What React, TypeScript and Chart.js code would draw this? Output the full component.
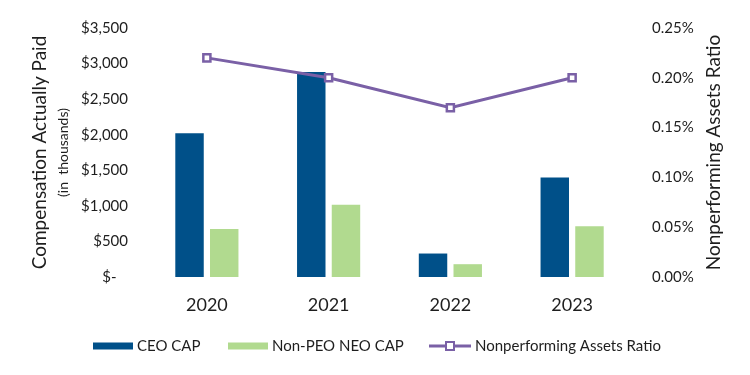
import React, { useEffect, useRef } from 'react';
import { Chart, registerables } from 'chart.js';

Chart.register(...registerables);

const categories = ['2020', '2021', '2022', '2023'];
const ceoCap = [2020, 2880, 330, 1400];
const nonPeoNeoCap = [675, 1015, 180, 715];
const npaRatio = [0.22, 0.2, 0.17, 0.2];

const leftTickLabels = ['$-   ', '$500', '$1,000', '$1,500', '$2,000', '$2,500', '$3,000', '$3,500'];
const rightTickLabels = ['0.00%', '0.05%', '0.10%', '0.15%', '0.20%', '0.25%'];

const seriesNames = ['CEO CAP', 'Non-PEO NEO CAP', 'Nonperforming Assets Ratio'];
const leftTitle = 'Compensation Actually Paid';
const leftSubtitle = '(in  thousands)';
const rightTitle = 'Nonperforming Assets Ratio';

const BLUE = '#005089';
const GREEN = '#B1DA8F';
const PURPLE = '#7A60A6';
const TEXT = '#1e1e1e';
const FONT = 'Lato, Carlito, Calibri, sans-serif';

const decorPlugin = {
  id: 'decor',
  afterDraw(chart: any) {
    const ctx = chart.ctx as CanvasRenderingContext2D;
    const area = chart.chartArea;
    const midY = (area.top + area.bottom) / 2;
    ctx.save();
    ctx.fillStyle = TEXT;
    ctx.textAlign = 'center';
    ctx.textBaseline = 'middle';
    // left title
    ctx.save();
    ctx.translate(40, midY);
    ctx.rotate(-Math.PI / 2);
    ctx.font = `19px ${FONT}`;
    ctx.fillText(leftTitle, 0, 0);
    ctx.restore();
    ctx.save();
    ctx.translate(63, midY);
    ctx.rotate(-Math.PI / 2);
    ctx.font = `14px ${FONT}`;
    ctx.fillText(leftSubtitle, 0, 0);
    ctx.restore();
    // right title
    ctx.save();
    ctx.translate(714, midY);
    ctx.rotate(-Math.PI / 2);
    ctx.font = `19px ${FONT}`;
    ctx.fillText(rightTitle, 0, 0);
    ctx.restore();

    // legend
    const ly = 346;
    ctx.font = `15px ${FONT}`;
    ctx.textAlign = 'left';
    ctx.textBaseline = 'middle';
    const starts = [93, 228, 429];
    ctx.fillStyle = BLUE;
    ctx.fillRect(starts[0], ly - 3.5, 40, 7);
    ctx.fillStyle = TEXT;
    ctx.fillText(seriesNames[0], starts[0] + 44, ly);
    ctx.fillStyle = GREEN;
    ctx.fillRect(starts[1], ly - 3.5, 40, 7);
    ctx.fillStyle = TEXT;
    ctx.fillText(seriesNames[1], starts[1] + 44, ly);
    ctx.strokeStyle = PURPLE;
    ctx.lineWidth = 3;
    ctx.beginPath();
    ctx.moveTo(starts[2], ly);
    ctx.lineTo(starts[2] + 42, ly);
    ctx.stroke();
    ctx.fillStyle = '#fff';
    ctx.lineWidth = 2;
    ctx.fillRect(starts[2] + 17, ly - 4, 8, 8);
    ctx.strokeRect(starts[2] + 17, ly - 4, 8, 8);
    ctx.fillStyle = TEXT;
    ctx.fillText(seriesNames[2], starts[2] + 46, ly);
    ctx.restore();
  },
};

export default function App() {
  const ref = useRef<HTMLCanvasElement | null>(null);
  useEffect(() => {
    if (!ref.current) return;
    const chart = new Chart(ref.current, {
      type: 'bar',
      data: {
        labels: categories,
        datasets: [
          {
            type: 'bar',
            label: seriesNames[0],
            data: ceoCap,
            backgroundColor: BLUE,
            yAxisID: 'y',
            order: 2,
            categoryPercentage: 0.57,
            barPercentage: 0.82,
          },
          {
            type: 'bar',
            label: seriesNames[1],
            data: nonPeoNeoCap,
            backgroundColor: GREEN,
            yAxisID: 'y',
            order: 2,
            categoryPercentage: 0.57,
            barPercentage: 0.82,
          },
          {
            type: 'line',
            label: seriesNames[2],
            data: npaRatio,
            borderColor: PURPLE,
            borderWidth: 3,
            backgroundColor: '#ffffff',
            pointStyle: 'rect',
            pointRadius: 5,
            pointBorderWidth: 2.5,
            pointBackgroundColor: '#ffffff',
            pointBorderColor: PURPLE,
            yAxisID: 'y1',
            order: 0,
            tension: 0,
          } as any,
        ],
      },
      options: {
        animation: false,
        responsive: true,
        maintainAspectRatio: false,
        layout: { padding: { top: 22, left: 0, right: 0, bottom: 0 } },
        plugins: {
          legend: { display: false },
          tooltip: { enabled: false },
        },
        scales: {
          x: {
            grid: { display: false, drawTicks: false },
            border: { display: false },
            ticks: { color: TEXT, font: { family: FONT, size: 18 }, padding: 17 },
            afterFit: (s: any) => {
              s.height = 98;
            },
          },
          y: {
            position: 'left',
            min: 0,
            max: 3500,
            grid: { display: false, drawTicks: false },
            border: { display: false },
            ticks: {
              stepSize: 500,
              color: TEXT,
              font: { family: FONT, size: 15 },
              padding: 18,
              callback: (_v: any, i: number) => leftTickLabels[i],
            },
            afterFit: (s: any) => {
              s.width = 146;
            },
          },
          y1: {
            position: 'right',
            min: 0,
            max: 0.25,
            grid: { display: false, drawTicks: false },
            border: { display: false },
            ticks: {
              stepSize: 0.05,
              color: TEXT,
              font: { family: FONT, size: 15 },
              padding: 19,
              callback: (_v: any, i: number) => rightTickLabels[i],
            },
            afterFit: (s: any) => {
              s.width = 117;
            },
          },
        },
      },
      plugins: [decorPlugin],
    } as any);
    return () => chart.destroy();
  }, []);
  return (
    <div style={{ position: 'absolute', left: 0, top: 0, width: 750, height: 375, background: '#fff' }}>
      <canvas ref={ref} />
    </div>
  );
}
